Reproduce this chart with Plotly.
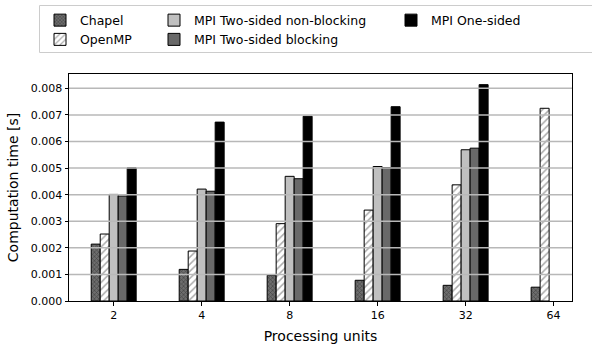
import plotly.graph_objects as go

categories = ["2", "4", "8", "16", "32", "64"]
chapel = [0.00214, 0.00119, 0.00097, 0.00078, 0.00059, 0.00052]
openmp = [0.00252, 0.00188, 0.00291, 0.00342, 0.00437, 0.00725]
mpi_nonblocking = [0.00401, 0.00421, 0.00469, 0.00506, 0.00569, None]
mpi_blocking = [0.00395, 0.00413, 0.00460, 0.00502, 0.00575, None]
mpi_onesided = [0.00501, 0.00673, 0.00695, 0.00731, 0.00814, None]
y_ticks = [0.000, 0.001, 0.002, 0.003, 0.004, 0.005, 0.006, 0.007, 0.008]
y_ticklabels = ["0.000", "0.001", "0.002", "0.003", "0.004", "0.005", "0.006", "0.007", "0.008"]

FONT = "DejaVu Sans"
W, H = 592, 347
L, R, T, B = 69, 20, 74, 46
pw, ph = W - L - R, H - T - B

def px2x(p):
    return (p - L) / pw

def py2y(p):
    return (H - B - p) / ph

edge = dict(color="black", width=1)
fig = go.Figure()
fig.add_bar(x=categories, y=chapel, name="Chapel", legend="legend", legendrank=1,
            marker=dict(color="#4a4a4a", line=edge,
                        pattern=dict(shape="x", bgcolor="#6e6e6e", fgcolor="#1a1a1a", size=3, solidity=0.4)))
fig.add_bar(x=categories, y=openmp, name="OpenMP", legend="legend", legendrank=2,
            marker=dict(color="white", line=edge,
                        pattern=dict(shape="/", bgcolor="white", fgcolor="#555555", size=5, solidity=0.3)))
fig.add_bar(x=categories, y=mpi_nonblocking, name="MPI Two-sided non-blocking", legend="legend2", legendrank=1,
            marker=dict(color="#c0c0c0", line=edge))
fig.add_bar(x=categories, y=mpi_blocking, name="MPI Two-sided blocking", legend="legend2", legendrank=2,
            marker=dict(color="#696969", line=edge))
fig.add_bar(x=categories, y=mpi_onesided, name="MPI One-sided", legend="legend3", legendrank=1,
            marker=dict(color="black", line=edge))

# horizontal grid lines drawn above the bars (as in the reference)
for v in y_ticks[1:]:
    fig.add_shape(type="line", xref="paper", yref="y", x0=0, x1=1, y0=v, y1=v,
                  line=dict(color="#b8b8b8", width=1.5), layer="above")

# legend frame
fig.add_shape(type="rect", xref="paper", yref="paper",
              x0=px2x(39.5), x1=px2x(600), y0=py2y(52.5), y1=py2y(5.5),
              line=dict(color="#cccccc", width=1), fillcolor="rgba(0,0,0,0)", layer="above")

lg = dict(orientation="v", xanchor="left", yanchor="top", bgcolor="rgba(0,0,0,0)",
          borderwidth=0, font=dict(family=FONT, size=12.5, color="black"),
          tracegroupgap=0, itemclick=False)
legy = py2y(5.5)
fig.update_layout(
    width=W, height=H,
    margin=dict(l=L, r=R, t=T, b=B, autoexpand=False),
    paper_bgcolor="white", plot_bgcolor="white",
    font=dict(family=FONT, size=11, color="black"),
    barmode="group", bargap=0.489, bargroupgap=0,
    legend=dict(lg, x=px2x(40), y=legy),
    legend2=dict(lg, x=px2x(154), y=legy),
    legend3=dict(lg, x=px2x(391), y=legy),
    xaxis=dict(type="category", range=[-0.508, 5.209], showgrid=False,
               showline=True, linecolor="black", linewidth=1, mirror=True,
               ticks="outside", ticklen=3.5, tickwidth=0.8, tickcolor="black",
               tickfont=dict(family=FONT, size=11, color="black"),
               title=dict(text="Processing units", font=dict(family=FONT, size=14, color="black"), standoff=10),
               layer="above traces"),
    yaxis=dict(range=[0, 0.00854], showgrid=False, zeroline=False,
               tickvals=y_ticks, ticktext=y_ticklabels,
               showline=True, linecolor="black", linewidth=1, mirror=True,
               ticks="outside", ticklen=3.5, tickwidth=0.8, tickcolor="black",
               tickfont=dict(family=FONT, size=11, color="black"),
               title=dict(text="Computation time [s]", font=dict(family=FONT, size=14, color="black"), standoff=8),
               layer="above traces"),
)

fig.write_html("out.html", config={"displayModeBar": False},
               post_script="document.body.style.margin='0px';")
